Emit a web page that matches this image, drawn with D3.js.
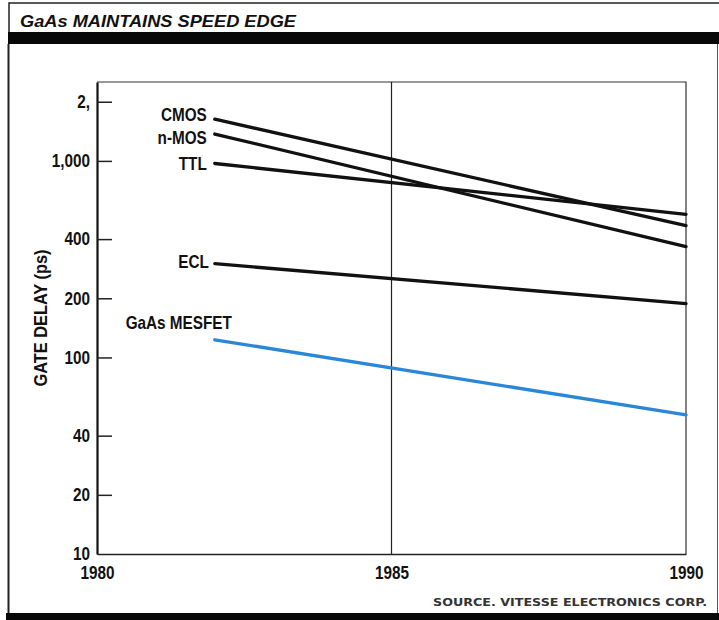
<!DOCTYPE html>
<html>
<head>
<meta charset="utf-8">
<script src="https://cdn.jsdelivr.net/npm/d3@7"></script>
<style>
  html, body { margin: 0; padding: 0; background: #fff; }
  svg { display: block; }
  .lab { font-family: "Liberation Sans", Arial, sans-serif; font-weight: bold; }
</style>
</head>
<body>
<svg id="chart" width="719" height="620"></svg>
<script>
// Gate delay (ps) by year for each logic family
const years = [1982, 1990];
const cmos = [1630, 468];
const nmos = [1370, 366];
const ttl = [970, 535];
const ecl = [300, 188];
const gaas = [123, 51];

const seriesNames = ["CMOS", "n-MOS", "TTL", "ECL", "GaAs MESFET"];
const seriesValues = [cmos, nmos, ttl, ecl, gaas];
const seriesColors = ["#111", "#111", "#111", "#111", "#2a86d8"];

const yTicks = [2000, 1000, 400, 200, 100, 40, 20, 10];
const yTickLabels = ["2,", "1,000", "400", "200", "100", "40", "20", "10"];
const xTicks = [1980, 1985, 1990];

const SX = 0.85;      // horizontal squeeze for the condensed lettering
const FS = 18;

const svg = d3.select("#chart");

// Frame and title bar
svg.append("rect").attr("x", 0).attr("y", 0).attr("width", 719).attr("height", 620).attr("fill", "#fff");
svg.append("path")
  .attr("d", "M9,44 V3 H719")
  .attr("fill", "none").attr("stroke", "#222").attr("stroke-width", 1.5);
svg.append("rect").attr("x", 8).attr("y", 32).attr("width", 711).attr("height", 12).attr("fill", "#080808");
svg.append("line").attr("x1", 8.5).attr("x2", 8.5).attr("y1", 44).attr("y2", 614)
  .attr("stroke", "#222").attr("stroke-width", 2);
svg.append("line").attr("x1", 717.5).attr("x2", 717.5).attr("y1", 44).attr("y2", 614)
  .attr("stroke", "#555").attr("stroke-width", 1);
svg.append("rect").attr("x", 6).attr("y", 613).attr("width", 713).attr("height", 7).attr("fill", "#080808");

svg.append("text")
  .attr("class", "lab")
  .attr("x", 20).attr("y", 27)
  .attr("font-size", 17).attr("font-style", "italic")
  .attr("textLength", 276).attr("lengthAdjust", "spacingAndGlyphs")
  .attr("fill", "#111")
  .text("GaAs MAINTAINS SPEED EDGE");

// Plot area
const plotLeft = 97, plotRight = 686, plotTop = 82, plotBottom = 554;
const x = d3.scaleLinear().domain([1980, 1990]).range([plotLeft, plotRight]);
const y = d3.scaleLog().domain([10, 2520]).range([plotBottom, plotTop]);

const g = svg.append("g");

// Box: top and right borders
g.append("path")
  .attr("d", `M${plotLeft},${plotTop} H${plotRight} V${plotBottom}`)
  .attr("fill", "none").attr("stroke", "#333").attr("stroke-width", 1.2);

// 1985 reference line
g.append("line")
  .attr("x1", x(1985)).attr("x2", x(1985))
  .attr("y1", plotTop).attr("y2", plotBottom)
  .attr("stroke", "#222").attr("stroke-width", 1.2);

// Y axis with inward ticks
const yAxis = d3.axisLeft(y)
  .tickValues(yTicks)
  .tickFormat((d, i) => yTickLabels[i])
  .tickSizeInner(-15).tickSizeOuter(0).tickPadding(7);
const ya = g.append("g").attr("transform", `translate(${plotLeft},0)`).call(yAxis);
ya.select(".domain").attr("stroke", "#111").attr("stroke-width", 2.2);
ya.selectAll(".tick line").attr("stroke", "#222").attr("stroke-width", 1.5)
  .filter(d => d === 10).remove();
ya.selectAll(".tick text")
  .attr("class", "lab").attr("font-size", FS).attr("fill", "#111")
  .attr("x", -7 / SX)
  .attr("transform", `scale(${SX},1)`);

// X axis labels
const xAxis = d3.axisBottom(x).tickValues(xTicks).tickFormat(d3.format("d"))
  .tickSize(0).tickPadding(12);
const xa = g.append("g").attr("transform", `translate(0,${plotBottom})`).call(xAxis);
xa.select(".domain").attr("stroke", "#222").attr("stroke-width", 1.5);
xa.selectAll(".tick text")
  .attr("class", "lab").attr("font-size", FS).attr("fill", "#111")
  .attr("transform", `scale(${SX},1)`);

// Series lines
const line = d3.line().x((d, i) => x(years[i])).y(d => y(d));
seriesValues.forEach((vals, k) => {
  g.append("path")
    .attr("d", line(vals))
    .attr("fill", "none")
    .attr("stroke", seriesColors[k])
    .attr("stroke-width", 3.3)
    .attr("stroke-linecap", "round");
});

// Series labels, set just left of each line's start (GaAs label sits above its line)
const labelNudge = [[-8, -5], [-8, 4], [-8, 0], [-6, -1.5], [17, -17]];
seriesNames.forEach((name, k) => {
  const lx = x(years[0]) + labelNudge[k][0];
  const ly = y(seriesValues[k][0]) + labelNudge[k][1];
  g.append("g")
    .attr("transform", `translate(${lx},${ly}) scale(${SX},1)`)
    .append("text")
    .attr("class", "lab")
    .attr("dy", "0.35em")
    .attr("text-anchor", "end")
    .attr("font-size", FS)
    .attr("fill", "#111")
    .text(name);
});

// Y axis title
svg.append("text")
  .attr("class", "lab")
  .attr("transform", `translate(40.5,318) rotate(-90)`)
  .attr("text-anchor", "middle")
  .attr("dy", "0.35em")
  .attr("font-size", FS)
  .attr("textLength", 137).attr("lengthAdjust", "spacingAndGlyphs")
  .attr("fill", "#111")
  .text("GATE DELAY (ps)");

// Source note
svg.append("text")
  .attr("x", 433).attr("y", 606)
  .attr("font-family", "'DejaVu Sans', sans-serif")
  .attr("font-weight", "bold")
  .attr("font-size", 10)
  .attr("textLength", 274).attr("lengthAdjust", "spacingAndGlyphs")
  .attr("fill", "#333")
  .text("SOURCE. VITESSE ELECTRONICS CORP.");
</script>
</body>
</html>
